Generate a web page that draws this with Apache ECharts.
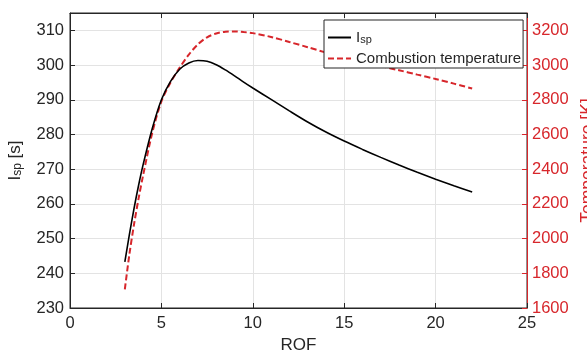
<!DOCTYPE html>
<html>
<head>
<meta charset="utf-8">
<script src="https://cdn.jsdelivr.net/npm/echarts@6/dist/echarts.min.js"></script>
<style>
html,body{margin:0;padding:0;background:#fff;}
#c{width:587px;height:353px;}
</style>
</head>
<body>
<div id="c"></div>
<script>
const rof  = [3, 3.25, 3.5, 3.75, 4, 4.5, 5, 5.5, 6, 6.5, 7, 7.5, 8, 8.5, 9, 9.5, 10, 11, 12, 13, 14, 15, 16, 17, 18, 19, 20, 21, 22];
const isp  = [243.3, 251.2, 258.6, 265.3, 271.3, 281.7, 290.0, 295.3, 298.8, 300.6, 301.3, 301.1, 300.1, 298.6, 296.9, 295.1, 293.4, 290.1, 286.8, 283.6, 280.7, 278.1, 275.7, 273.4, 271.2, 269.1, 267.1, 265.2, 263.4];
const temp = [1708, 1910, 2080, 2230, 2365, 2610, 2790, 2900, 2985, 3060, 3120, 3160, 3182, 3192, 3194, 3190, 3184, 3162, 3133, 3103, 3072, 3044, 3018, 2994, 2970, 2945, 2920, 2893, 2865];
const xTicks = [0, 5, 10, 15, 20, 25];
const ispTicks = [230, 240, 250, 260, 270, 280, 290, 300, 310];
const tempTicks = [1600, 1800, 2000, 2200, 2400, 2600, 2800, 3000, 3200];

const RED = '#d7262b';
const DARK = '#262626';
const FONT = '"Liberation Sans", Arial, sans-serif';
const TICK_FS = 16.5;
const NAME_FS = 17;

const chart = echarts.init(document.getElementById('c'), null, {renderer: 'canvas'});
const nameRich = {
  i: {fontSize: NAME_FS, fontFamily: FONT, color: DARK, lineHeight: 17, verticalAlign: 'top'},
  s: {fontSize: 12, fontFamily: FONT, color: DARK, lineHeight: 12, verticalAlign: 'bottom', padding: [11, 0, 0, 0]}
};
const legRich = {
  i: {fontSize: 15, fontFamily: FONT, color: DARK, lineHeight: 15, verticalAlign: 'top'},
  s: {fontSize: 11, fontFamily: FONT, color: DARK, lineHeight: 11, verticalAlign: 'bottom', padding: [10, 0, 0, 0]},
  t: {fontSize: 15, fontFamily: FONT, color: DARK}
};
chart.setOption({
  animation: false,
  backgroundColor: '#fff',
  textStyle: {fontFamily: FONT},
  grid: {left: 70, right: 60, top: 13, bottom: 45, show: true, borderColor: DARK, borderWidth: 1,
         backgroundColor: '#fff', containLabel: false, outerBoundsMode: 'none'},
  legend: {
    left: 324, top: 20, orient: 'vertical',
    itemWidth: 23, itemHeight: 14, itemGap: 6,
    padding: [4, 2, 2, 3],
    backgroundColor: '#fff', borderColor: DARK, borderWidth: 1, borderRadius: 0,
    data: ['Isp', 'Combustion temperature'],
    itemStyle: {opacity: 0},
    formatter: n => n === 'Isp' ? '{i|I}{s|sp}' : '{t|' + n + '}',
    textStyle: {color: DARK, fontFamily: FONT, fontSize: 15, rich: legRich}
  },
  xAxis: [{
    type: 'value', min: xTicks[0], max: xTicks[xTicks.length - 1], interval: 5,
    name: 'ROF', nameLocation: 'middle', nameGap: 29,
    nameTextStyle: {color: DARK, fontSize: NAME_FS, fontFamily: FONT},
    axisLine: {show: true, onZero: false, lineStyle: {color: DARK, width: 1}},
    axisTick: {show: true, inside: true, length: 5, lineStyle: {color: DARK}},
    axisLabel: {color: DARK, fontSize: TICK_FS, margin: 7, fontFamily: FONT},
    splitLine: {show: true, lineStyle: {color: '#e3e3e3', width: 1}}
  }, {
    type: 'value', position: 'top', min: xTicks[0], max: xTicks[xTicks.length - 1], interval: 5,
    axisLine: {show: true, onZero: false, lineStyle: {color: DARK, width: 1}},
    axisTick: {show: true, inside: true, length: 5, lineStyle: {color: DARK}},
    axisLabel: {show: false}, splitLine: {show: false}
  }],
  yAxis: [{
    type: 'value', position: 'left', min: ispTicks[0], max: 315, interval: 10,
    name: '{i|I}{s|sp}{i| [s]}', nameLocation: 'middle', nameGap: 46, nameRotate: 90,
    nameTextStyle: {rich: nameRich},
    axisLine: {show: true, onZero: false, lineStyle: {color: DARK, width: 1}},
    axisTick: {show: true, inside: true, length: 5, lineStyle: {color: DARK}},
    axisLabel: {color: DARK, fontSize: TICK_FS, margin: 6, fontFamily: FONT, showMaxLabel: false},
    splitLine: {show: true, lineStyle: {color: '#e3e3e3', width: 1}}
  }, {
    type: 'value', position: 'right', min: tempTicks[0], max: 3300, interval: 200,
    name: 'Temperature [K]', nameLocation: 'middle', nameGap: 47, nameRotate: 90,
    nameTextStyle: {color: RED, fontSize: 17.5, fontFamily: FONT},
    axisLine: {show: true, onZero: false, lineStyle: {color: RED, width: 1}},
    axisTick: {show: true, inside: true, length: 5, lineStyle: {color: RED}},
    axisLabel: {color: RED, fontSize: TICK_FS, margin: 5, fontFamily: FONT, showMaxLabel: false,
                formatter: v => String(v)},
    splitLine: {show: false}
  }],
  series: [{
    name: 'Isp', type: 'line', xAxisIndex: 0, yAxisIndex: 0,
    data: rof.map((x, k) => [x, isp[k]]),
    smooth: 0.3, showSymbol: false, symbol: 'none',
    lineStyle: {color: '#000', width: 1.6}, itemStyle: {color: '#000'}, z: 3
  }, {
    name: 'Combustion temperature', type: 'line', xAxisIndex: 0, yAxisIndex: 1,
    data: rof.map((x, k) => [x, temp[k]]),
    smooth: 0.3, showSymbol: false, symbol: 'none',
    lineStyle: {color: RED, width: 2, type: [6, 3]}, itemStyle: {color: RED}, z: 2
  }]
});
</script>
</body>
</html>
